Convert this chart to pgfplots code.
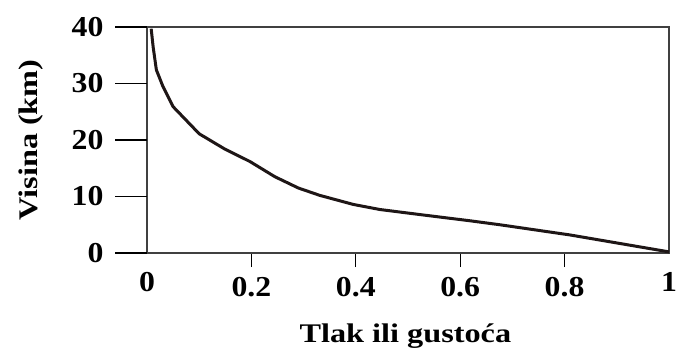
\documentclass[border=0pt]{standalone}
\usepackage{pgfplots}
\pgfplotsset{compat=1.18}
\usepackage{fontspec}
\setmainfont[FakeStretch=1.2]{Liberation Serif}
\newfontfamily\tickfont[FakeStretch=1.1]{Liberation Serif}
\begin{document}
\begin{tikzpicture}
\begin{axis}[
  name=ax,
  scale only axis,
  width=522bp, height=226bp,
  xmin=0, xmax=1, ymin=0, ymax=40,
  axis line style={black!75, line width=1.1bp},
  tick style={black, line width=1.3bp},
  tick align=outside,
  major tick length=14bp,
  xtick={0.2,0.4,0.6,0.8},
  ytick=\empty,
  extra x ticks={0,1},
  extra x tick style={major tick length=0pt, xticklabel style={yshift=-9bp}},
  extra y ticks={0,10,20,30,40},
  extra y tick style={major tick length=32bp, yticklabel style={anchor=east, xshift=-8bp}},
  xtick pos=bottom, ytick pos=left,
  /pgf/number format/assume math mode=true,
  ticklabel style={font=\tickfont\bfseries\fontsize{29}{29}\selectfont},
  xticklabel style={anchor=north, yshift=-7bp},
  xticklabel={\pgfmathprintnumber[fixed,precision=1]{\tick}},
  xlabel={Tlak ili gustoća},
  ylabel={Visina (km)},
  label style={font=\bfseries\fontsize{27}{27}\selectfont},
  xlabel style={at={(axis description cs:0.495,0)}, anchor=north, yshift=-67bp},
  ylabel style={at={(axis description cs:0,0.5)}, anchor=south, yshift=100bp},
  clip=false,
]
\addplot[line width=3bp, color={rgb,255:red,30;green,22;blue,22}, line join=round] coordinates {
(0.008,39.7)
(0.012,36.3)
(0.018,32.4)
(0.030,29.6)
(0.050,25.9)
(0.100,21.1)
(0.149,18.4)
(0.197,16.2)
(0.245,13.5)
(0.290,11.5)
(0.331,10.2)
(0.395,8.6)
(0.446,7.7)
(0.523,6.8)
(0.619,5.7)
(0.676,5.0)
(0.810,3.2)
(1.000,0.2)
};
\end{axis}
\pgfresetboundingbox
\path[use as bounding box] (ax.south west) ++(-147bp,-96bp) rectangle ++(679bp,349bp);
\end{tikzpicture}
\end{document}
